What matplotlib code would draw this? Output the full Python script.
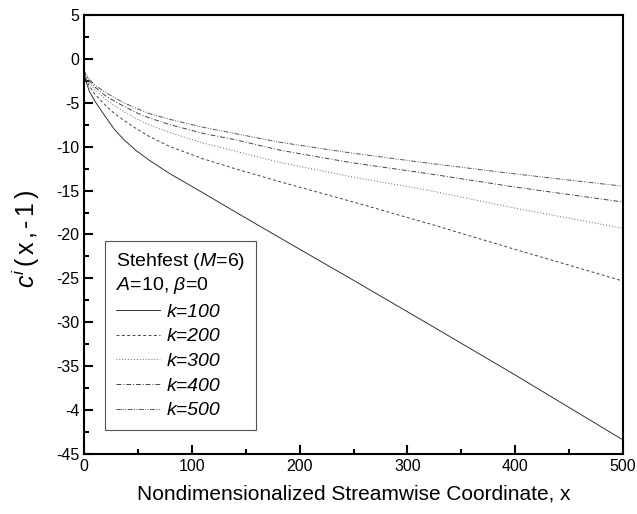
import numpy as np
import matplotlib
matplotlib.use('Agg')
import matplotlib.pyplot as plt
from matplotlib.ticker import MultipleLocator, FixedLocator

plt.rcParams['font.family'] = ['Liberation Sans', 'DejaVu Sans']
plt.rcParams['mathtext.fontset'] = 'custom'
plt.rcParams['mathtext.rm'] = 'Liberation Sans'
plt.rcParams['mathtext.it'] = 'Liberation Sans:italic'

# values
x = [0, 2, 5, 10, 20, 28, 37, 48, 60, 80, 111, 140, 182, 247, 321, 400, 500]
k100 = [-1.5, -2.6, -3.7, -4.8, -6.6, -8.0, -9.2, -10.4, -11.5, -13.1, -15.3, -17.4, -20.4, -25.0, -30.3, -36.0, -43.4]
k200 = [-1.6, -2.3, -3.1, -4.0, -5.3, -6.2, -7.0, -7.9, -8.8, -10.0, -11.4, -12.5, -14.0, -16.2, -18.8, -21.7, -25.3]
k300 = [-1.5, -2.1, -2.7, -3.5, -4.6, -5.3, -6.0, -6.8, -7.5, -8.4, -9.6, -10.5, -11.8, -13.4, -15.0, -17.0, -19.3]
k400 = [-1.4, -1.9, -2.5, -3.2, -4.2, -4.8, -5.4, -6.1, -6.7, -7.5, -8.5, -9.2, -10.4, -11.8, -13.1, -14.6, -16.3]
k500 = [-1.3, -1.8, -2.3, -3.0, -3.8, -4.4, -5.0, -5.6, -6.2, -6.9, -7.8, -8.5, -9.5, -10.7, -11.9, -13.1, -14.5]
labels = ['k=100', 'k=200', 'k=300', 'k=400', 'k=500']

yticks = [5, 0, -5, -10, -15, -20, -25, -30, -35, -40, -45]
yticklabels = ['5', '0', '-5', '-10', '-15', '-20', '-25', '-30', '-35', '-4', '-45']
xticks = [0, 100, 200, 300, 400, 500]

fig = plt.figure(figsize=(6.37, 5.14), dpi=100)
ax = fig.add_axes([84/637, 1-454/514, (623-84)/637, (454-15)/514])

styles = ['-', (0, (3, 2.5)), (0, (1, 2)), (0, (5, 2, 1, 2)), (0, (5, 1.5, 1, 1.5, 1, 1.5))]
colors = ['#333333', '#444444', '#666666', '#444444', '#555555']
for ys, ls, c, lab in zip([k100, k200, k300, k400, k500], styles, colors, labels):
    ax.plot(x, ys, linestyle=ls, color=c, lw=0.7, label=lab)

ax.set_xlim(0, 500)
ax.set_ylim(-45, 5)
ax.xaxis.set_major_locator(FixedLocator(xticks))
ax.xaxis.set_minor_locator(MultipleLocator(50))
ax.yaxis.set_major_locator(FixedLocator(yticks))
ax.set_yticklabels(yticklabels)
ax.yaxis.set_minor_locator(MultipleLocator(2.5))
ax.tick_params(which='both', direction='in', labelsize=11.5, width=1.5, top=False, right=False)
ax.tick_params(which='major', length=6.5)
ax.tick_params(which='minor', length=3.5)
for s in ax.spines.values():
    s.set_linewidth(1.5)

ax.set_xlabel('Nondimensionalized Streamwise Coordinate, x', fontsize=15, labelpad=8)
ax.set_ylabel(r'$c^{i}\,$($\,$x$\,$,$\,$-$\,\mathit{1}\,$)', fontsize=18)
ax.yaxis.set_label_coords(-0.078, 0.49)

leg = ax.legend(loc='lower left', bbox_to_anchor=(21/539, 24/439), borderaxespad=0,
                title='Stehfest ($\\mathit{M}$=6)\n$\\mathit{A}$=10, $\\mathit{\\beta}$=0',
                alignment='left', fancybox=False, edgecolor='#555555', framealpha=1,
                prop={'style': 'italic', 'size': 14}, title_fontsize=14,
                handlelength=2.3, handletextpad=0.3, labelspacing=0.36, borderpad=0.55)
leg.get_frame().set_linewidth(0.8)

fig.savefig('out.png', dpi=100)
